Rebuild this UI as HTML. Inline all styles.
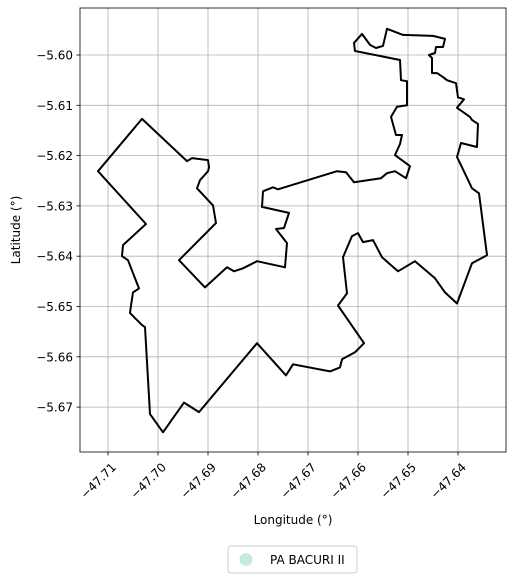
<!DOCTYPE html>
<html><head><meta charset="utf-8"><style>
body{margin:0;background:#fff;}
svg{font-family:"DejaVu Sans","Liberation Sans",sans-serif;}
</style></head><body>
<svg id="chart" width="515" height="582" viewBox="0 0 515 582">
<g id="grid"></g>
<g id="ticks"></g>
<path id="boundary" fill="none" stroke="#000" stroke-width="2" stroke-linejoin="round"></path>
<rect x="80" y="8" width="426" height="444" fill="none" stroke="#000" stroke-width="0.8"/>
<text x="293" y="524" text-anchor="middle" font-size="12">Longitude (°)</text>
<text x="20" y="230" text-anchor="middle" font-size="12" transform="rotate(-90 20 230)">Latitude (°)</text>
<g>
<rect x="228" y="546" width="129" height="27" rx="3" fill="#fff" stroke="#ccc" stroke-width="1"/>
<circle cx="246" cy="559.5" r="6.5" fill="#c9eadb"/>
<text x="270" y="564" font-size="12">PA BACURI II</text>
</g>
</svg>
<script>
const xTicks=[-47.71,-47.70,-47.69,-47.68,-47.67,-47.66,-47.65,-47.64];
const yTicks=[-5.60,-5.61,-5.62,-5.63,-5.64,-5.65,-5.66,-5.67];
const lons=[-47.7032,-47.6942,-47.6932,-47.6900,-47.6898,-47.6900,-47.6916,-47.6922,-47.6890,-47.6884,-47.6958,-47.6906,-47.6862,-47.6848,-47.6830,-47.6802,-47.6746,-47.6742,-47.6764,-47.6748,-47.6738,-47.6792,-47.6790,-47.6770,-47.6760,-47.6642,-47.6624,-47.6608,-47.6554,-47.6542,-47.6526,-47.6504,-47.6496,-47.6526,-47.6516,-47.6512,-47.6524,-47.6534,-47.6522,-47.6502,-47.6502,-47.6514,-47.6516,-47.6606,-47.6608,-47.6592,-47.6576,-47.6564,-47.6550,-47.6542,-47.6510,-47.6450,-47.6426,-47.6430,-47.6444,-47.6446,-47.6458,-47.6452,-47.6452,-47.6442,-47.6430,-47.6422,-47.6404,-47.6400,-47.6388,-47.6398,-47.6402,-47.6376,-47.6372,-47.6360,-47.6362,-47.6394,-47.6402,-47.6394,-47.6372,-47.6358,-47.6342,-47.6372,-47.6402,-47.6426,-47.6446,-47.6486,-47.6520,-47.6552,-47.6570,-47.6590,-47.6600,-47.6612,-47.6630,-47.6622,-47.6640,-47.6588,-47.6606,-47.6632,-47.6636,-47.6656,-47.6730,-47.6744,-47.6802,-47.6918,-47.6948,-47.6990,-47.7016,-47.7026,-47.7032,-47.7042,-47.7056,-47.7054,-47.7050,-47.7038,-47.7046,-47.7060,-47.7072,-47.7070,-47.7024,-47.7120];
const lats=[-5.6127,-5.6211,-5.6205,-5.6209,-5.6223,-5.6231,-5.6249,-5.6265,-5.6299,-5.6334,-5.6408,-5.6462,-5.6422,-5.6430,-5.6424,-5.6410,-5.6422,-5.6374,-5.6346,-5.6344,-5.6314,-5.6302,-5.6271,-5.6263,-5.6267,-5.6231,-5.6233,-5.6253,-5.6245,-5.6235,-5.6231,-5.6245,-5.6221,-5.6199,-5.6177,-5.6159,-5.6159,-5.6123,-5.6103,-5.6100,-5.6052,-5.6050,-5.6010,-5.5992,-5.5976,-5.5958,-5.5980,-5.5986,-5.5982,-5.5948,-5.5960,-5.5962,-5.5968,-5.5984,-5.5984,-5.5996,-5.6000,-5.6006,-5.6036,-5.6036,-5.6044,-5.6050,-5.6056,-5.6084,-5.6088,-5.6100,-5.6105,-5.6123,-5.6129,-5.6137,-5.6183,-5.6175,-5.6203,-5.6219,-5.6265,-5.6275,-5.6398,-5.6414,-5.6494,-5.6472,-5.6444,-5.6410,-5.6430,-5.6402,-5.6368,-5.6372,-5.6354,-5.6360,-5.6402,-5.6474,-5.6498,-5.6573,-5.6591,-5.6605,-5.6621,-5.6629,-5.6615,-5.6637,-5.6573,-5.6710,-5.6691,-5.6750,-5.6714,-5.6541,-5.6537,-5.6527,-5.6513,-5.6498,-5.6472,-5.6464,-5.6444,-5.6408,-5.6400,-5.6378,-5.6336,-5.6231];
function sx(v){return 108+(v+47.71)*5000;}
function sy(v){return 55+(-5.60-v)*5030;}
const NS='http://www.w3.org/2000/svg';
const grid=document.getElementById('grid'), ticks=document.getElementById('ticks');
function mk(tag,attrs,parent){const e=document.createElementNS(NS,tag);for(const k in attrs)e.setAttribute(k,attrs[k]);parent.appendChild(e);return e;}
xTicks.forEach(v=>{const x=sx(v);
 const g=mk('line',{x1:x,x2:x,y1:8,y2:452,stroke:'#b0b0b0','stroke-width':0.8},grid);
 
 
 const t=mk('line',{x1:x,x2:x,y1:452,y2:455.5,stroke:'#000','stroke-width':0.8},ticks);
 
 
 const lb=mk('text',{x:x+3,y:462,'font-size':12,'text-anchor':'end',transform:`rotate(-45 ${x+3} 462)`,dy:'0.7em'},ticks);
 lb.textContent='\u2212'+Math.abs(v).toFixed(2);
 
 
});
yTicks.forEach(v=>{const y=sy(v);
 const g=mk('line',{x1:80,x2:506,y1:y,y2:y,stroke:'#b0b0b0','stroke-width':0.8},grid);
 
 
 const t=mk('line',{x1:76.5,x2:80,y1:y,y2:y,stroke:'#000','stroke-width':0.8},ticks);
 
 
 const lb=mk('text',{x:73,y:y+4.5,'font-size':12,'text-anchor':'end'},ticks);
 lb.textContent='\u2212'+Math.abs(v).toFixed(2);
 
 
});
let d='';
lons.forEach((v,i)=>{d+=(i?'L':'M')+sx(v).toFixed(1)+' '+sy(lats[i]).toFixed(1);});
document.getElementById('boundary').setAttribute('d',d+'Z');
</script>
</body></html>
